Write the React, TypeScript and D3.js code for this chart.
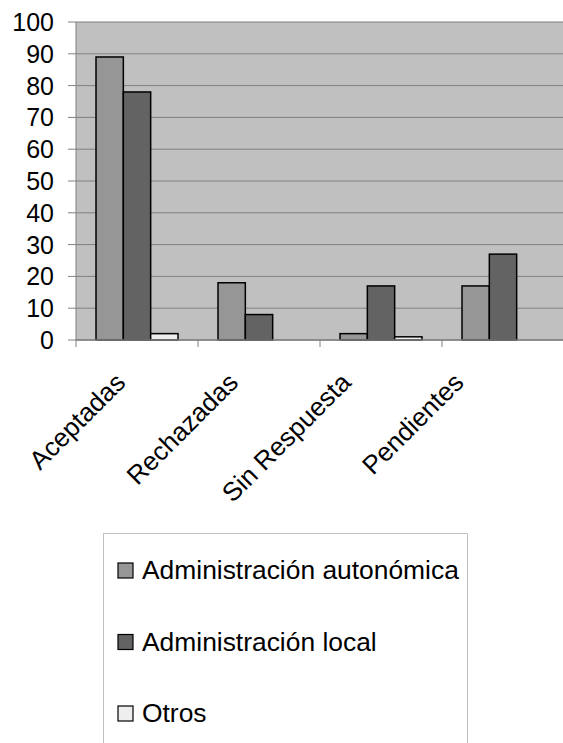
import React from "react";
import * as d3 from "d3";

// Chart data
const categories = ["Aceptadas", "Rechazadas", "Sin Respuesta", "Pendientes"];
const seriesNames = ["Administración autonómica", "Administración local", "Otros"];
const autonomica = [89, 18, 2, 17];
const local = [78, 8, 17, 27];
const otros = [2, 0, 1, 0];
const yTicks = [0, 10, 20, 30, 40, 50, 60, 70, 80, 90, 100];

const seriesValues = [autonomica, local, otros];
const seriesColors = ["#969696", "#636363", "#eeeeee"];

const App = () => {
  const W = 563;
  const H = 743;
  const font = "'Liberation Sans', Arial, sans-serif";

  // plot area
  const left = 76;
  const right = 564;
  const top = 22;
  const bottom = 340;

  const x0 = d3.scaleBand<string>().domain(categories).range([left, right]).paddingInner(0).paddingOuter(0);
  // Excel style gap: 150% of bar width split on both sides of the group
  const groupPad = (x0.bandwidth() * (40 / 122)) / 2;
  const x1 = d3
    .scaleBand<string>()
    .domain(seriesNames)
    .range([groupPad, x0.bandwidth() - groupPad]);
  const y = d3.scaleLinear().domain([0, 100]).range([bottom, top]);

  const tickEdges = categories.map((c) => x0(c) as number).concat([right]);

  return (
    <svg
      width={W}
      height={H}
      style={{ position: "absolute", left: 0, top: 0, background: "#fff" }}
      fontFamily={font}
    >
      {/* plot background */}
      <rect x={left} y={top} width={right - left} height={bottom - top} fill="#c0c0c0" />

      {/* gridlines */}
      {yTicks.map((t) => (
        <line key={"g" + t} x1={left} x2={right} y1={y(t)} y2={y(t)} stroke="#808080" strokeWidth={1} />
      ))}

      {/* y axis */}
      <line x1={left} x2={left} y1={top} y2={bottom} stroke="#808080" strokeWidth={1} />
      {yTicks.map((t) => (
        <g key={"y" + t}>
          <line x1={left - 8} x2={left} y1={y(t)} y2={y(t)} stroke="#808080" strokeWidth={1} />
          <text x={54} y={y(t)} dy="0.36em" textAnchor="end" fontSize={25} fill="#000">
            {t}
          </text>
        </g>
      ))}

      {/* bars */}
      {seriesValues.map((vals, si) =>
        vals.map((v, ci) => {
          if (v <= 0) return null;
          const bx = (x0(categories[ci]) as number) + (x1(seriesNames[si]) as number);
          const by = y(v);
          return (
            <rect
              key={`b${si}-${ci}`}
              x={bx}
              y={by}
              width={x1.bandwidth()}
              height={bottom - by}
              fill={seriesColors[si]}
              stroke="#000"
              strokeWidth={1.5}
            />
          );
        })
      )}

      {/* x axis */}
      <line x1={left} x2={right} y1={bottom} y2={bottom} stroke="#808080" strokeWidth={1.5} />
      {tickEdges.map((tx, i) => (
        <line key={"xt" + i} x1={tx} x2={tx} y1={bottom} y2={bottom + 7} stroke="#808080" strokeWidth={1} />
      ))}
      {categories.map((c, i) => {
        const cx = (x0(c) as number) + x0.bandwidth() / 2;
        return (
          <text
            key={"xl" + c}
            transform={`translate(${cx - 10 - 9.3 * i},${bottom + 44}) rotate(-45)`}
            textAnchor="end"
            fontSize={26}
            fill="#000"
          >
            {c}
          </text>
        );
      })}

      {/* legend */}
      <rect x={103.5} y={533.5} width={364} height={230} fill="#fff" stroke="#c0c0c0" strokeWidth={1} />
      {seriesNames.map((s, i) => {
        const ly = 579 + i * 71.5;
        return (
          <g key={"l" + s}>
            <rect x={118} y={ly - 16} width={15} height={15} fill={seriesColors[i]} stroke="#000" strokeWidth={1.2} />
            <text x={142} y={ly} fontSize={26.4} fill="#000">
              {s}
            </text>
          </g>
        );
      })}
    </svg>
  );
};

export default App;
